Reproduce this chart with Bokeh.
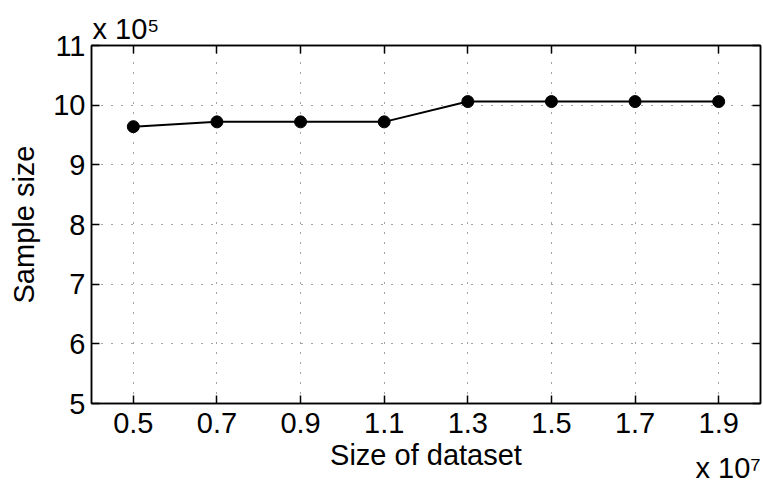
from bokeh.plotting import figure
from bokeh.models import LinearAxis, FixedTicker
from bokeh.embed import file_html
from bokeh.resources import INLINE

# Data (x in units of 10^7, y in units of 10^5)
dataset_size = [0.5, 0.7, 0.9, 1.1, 1.3, 1.5, 1.7, 1.9]
sample_size = [9.64, 9.72, 9.72, 9.72, 10.06, 10.06, 10.06, 10.06]

x_ticks = [0.5, 0.7, 0.9, 1.1, 1.3, 1.5, 1.7, 1.9]
x_tick_labels = ["0.5", "0.7", "0.9", "1.1", "1.3", "1.5", "1.7", "1.9"]
y_ticks = [5, 6, 7, 8, 9, 10, 11]
y_tick_labels = ["5", "6", "7", "8", "9", "10", "11"]
x_title = "Size of dataset"
y_title = "Sample size"
x_exponent = "x 10\u2077"
y_exponent = "x 10\u2075"

FONT = "Liberation Sans"
FS = "29px"
PAD = "\u00a0" * 75   # pushes the x exponent to the right end of the axis

p = figure(width=763, height=491, x_range=(0.4, 2.0), y_range=(5, 11),
           output_backend="svg", toolbar_location=None,
           min_border_left=91, min_border_right=3, min_border_top=45,
           min_border_bottom=88)
p.background_fill_color = "white"
p.border_fill_color = "white"
p.outline_line_color = "black"
p.outline_line_width = 1.5
p.outline_line_alpha = 1.0

def style_axis(ax, ticks, labels, show_labels=True):
    ax.ticker = FixedTicker(ticks=ticks)
    ax.major_label_overrides = {t: l for t, l in zip(ticks, labels)}
    ax.minor_tick_line_color = None
    ax.major_tick_in = 8
    ax.major_tick_out = 0
    ax.major_tick_line_color = "black"
    ax.major_tick_line_width = 1.5
    ax.axis_line_color = "black"
    ax.axis_line_width = 1.5
    ax.major_label_text_font = FONT
    if show_labels:
        ax.major_label_text_color = "black"
        ax.major_label_text_font_size = FS
    else:
        ax.major_label_text_color = None
        ax.major_label_text_font_size = "1px"
        ax.major_label_standoff = 0
        ax.axis_label_standoff = 0

style_axis(p.xaxis[0], x_ticks, x_tick_labels)
style_axis(p.yaxis[0], y_ticks, y_tick_labels)
p.xaxis[0].major_label_standoff = 9
p.yaxis[0].major_label_standoff = 6

p.xaxis[0].axis_label = x_title + "\n" + PAD + x_exponent
p.yaxis[0].axis_label = y_title
for ax in (p.xaxis[0], p.yaxis[0]):
    ax.axis_label_text_font = FONT
    ax.axis_label_text_font_size = FS
    ax.axis_label_text_font_style = "normal"
    ax.axis_label_text_color = "black"
p.xaxis[0].axis_label_text_line_height = 0.42
p.xaxis[0].axis_label_standoff = 3
p.yaxis[0].axis_label_standoff = 10

top_ax = LinearAxis()
style_axis(top_ax, x_ticks, x_tick_labels, show_labels=False)
p.add_layout(top_ax, "above")
right_ax = LinearAxis()
style_axis(right_ax, y_ticks, y_tick_labels, show_labels=False)
p.add_layout(right_ax, "right")

for g, t in ((p.xgrid[0], x_ticks), (p.ygrid[0], y_ticks)):
    g.ticker = FixedTicker(ticks=t)
    g.grid_line_color = "#333333"
    g.grid_line_width = 1
    g.grid_line_dash = "1 9"
    g.grid_line_alpha = 0.9

p.line(dataset_size, sample_size, line_color="black", line_width=2)
p.scatter(dataset_size, sample_size, size=12, fill_color="black", line_color="black")

# y exponent as left-aligned title above the frame
p.title.text = y_exponent
p.title.align = "left"
p.title.offset = 1
p.title.standoff = 2
p.title.text_font = FONT
p.title.text_font_size = FS
p.title.text_font_style = "normal"
p.title.text_color = "black"

open("out.html", "w").write(file_html(p, INLINE))
